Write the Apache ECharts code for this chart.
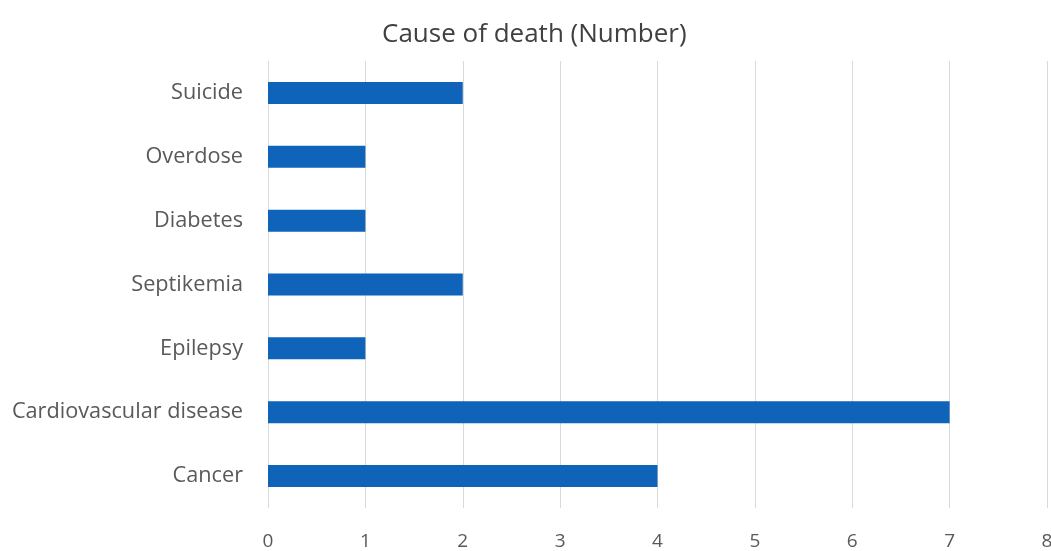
<!DOCTYPE html>
<html><head><meta charset="utf-8">
<script src="https://cdn.jsdelivr.net/npm/echarts@6/dist/echarts.min.js"></script>
<style>html,body{margin:0;padding:0;background:#fff}#c{width:1051px;height:551px}</style>
</head><body><div id="c"></div>
<script>
const categories = ["Cancer", "Cardiovascular disease", "Epilepsy", "Septikemia", "Diabetes", "Overdose", "Suicide"];
const values = [4, 7, 1, 2, 1, 1, 2];
const xTicks = [0, 1, 2, 3, 4, 5, 6, 7, 8];
const titleText = "Cause of death (Number)";

const chart = echarts.init(document.getElementById('c'));
chart.setOption({
  animation: false,
  textStyle: { fontFamily: "Open Sans" },
  title: {
    text: titleText, left: 377, top: 17,
    textStyle: { fontFamily: "Open Sans", fontSize: 26, fontWeight: 'normal', color: '#404040' }
  },
  grid: { left: 268, right: 4, top: 61, bottom: 43, outerBoundsMode: 'none', containLabel: false },
  xAxis: {
    type: 'value', min: xTicks[0], max: xTicks[xTicks.length - 1], interval: 1,
    axisLine: { show: false }, axisTick: { show: false },
    splitLine: { show: true, lineStyle: { color: '#d9d9d9', width: 1 } },
    axisLabel: { color: '#595959', fontSize: 19, margin: 24, fontFamily: "Open Sans" }
  },
  yAxis: {
    type: 'category', data: categories,
    axisLine: { show: false }, axisTick: { show: false },
    axisLabel: { color: '#595959', fontSize: 21.7, margin: 25, fontFamily: "Open Sans" }
  },
  series: [{
    type: 'bar', data: values, barWidth: 22,
    itemStyle: { color: '#0f63b8' }
  }]
});
</script></body></html>
